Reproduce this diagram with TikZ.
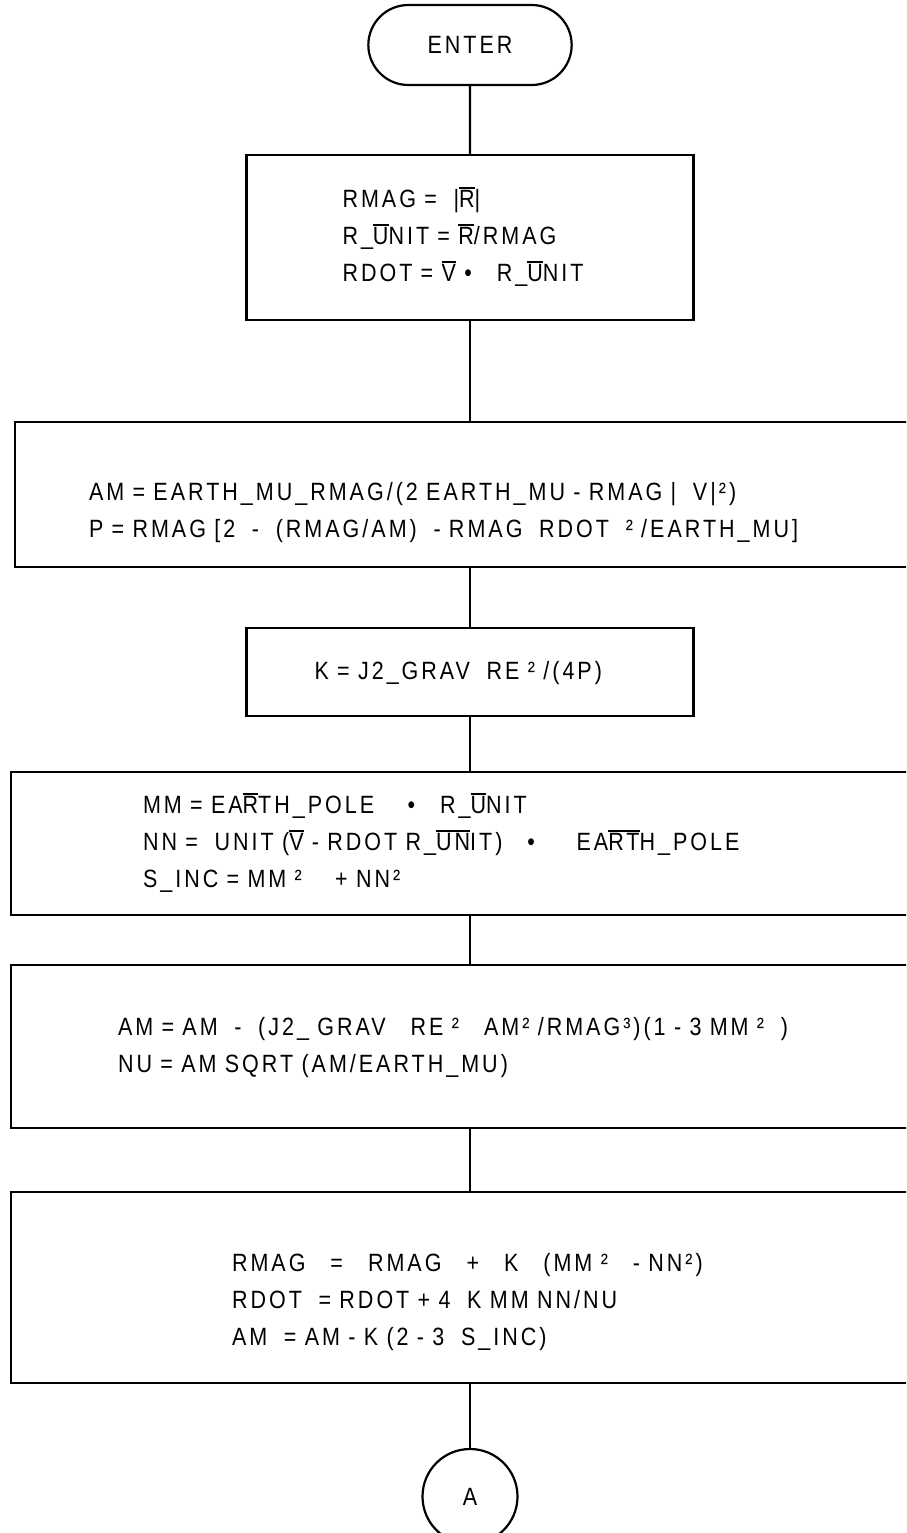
\documentclass[tikz,border=0pt]{standalone}
\usepackage{fontspec}
\usetikzlibrary{
  positioning,
  shapes.misc
}
\newfontfamily\chartfont[FakeStretch=0.86, LetterSpace=12]{Liberation Sans}
\newcommand{\ovl}[1]{\leavevmode\vbox{\hrule height 2pt\kern 1.6pt\hbox{#1}}}

\begin{document}
\begin{tikzpicture}[x=1pt, y=-1pt,
  chart/.style={font=\chartfont\fontsize{25}{37}\selectfont},
  procbox/.style={chart, draw, line width=2.2pt, outer sep=0pt, align=left},
  flow/.style={line width=2.2pt}]
  \useasboundingbox (0,0) rectangle (906,1533);
  \clip (0,0) rectangle (906,1533);
  \node[chart, draw, line width=2.2pt, outer sep=0pt, rounded rectangle, minimum width=210pt, minimum height=80pt] (enter) at (470,45) {ENTER};
  \node[procbox, below=70pt of enter, text width=255pt, inner xsep=96pt, minimum height=165pt] (mag) {\begin{tabular}{@{}l@{}}
    RMAG =~ |\ovl{R}|\\
    R\_\ovl{U}NIT = \ovl{R}/RMAG\\
    RDOT = \ovl{V} •~~ R\_\ovl{U}NIT
  \end{tabular}};
  \node[procbox, below=102pt of mag, text width=762pt, inner xsep=74pt, minimum height=145pt] (semi) {\raisebox{-17pt}[\height][\depth]{\begin{tabular}{@{}l@{}}
    AM = EARTH\_MU\_RMAG/(2 EARTH\_MU - RMAG |~ V|²)\\
    P = RMAG [2~ -~ (RMAG/AM)~ - RMAG~ RDOT~ ² /EARTH\_MU]
  \end{tabular}}};
  \node[procbox, below=61pt of semi, text width=311pt, inner xsep=68pt, minimum height=88pt] (kcoef) {\begin{tabular}{@{}l@{}}
    K = J2\_GRAV~ RE ² /(4P)
  \end{tabular}};
  \node[procbox, below=56pt of kcoef, text width=654pt, inner xsep=132pt, minimum height=143pt] (pole) {\begin{tabular}{@{}l@{}}
    MM = EA\ovl{R}TH\_POLE~~ ~• ~~R\_\ovl{U}NIT\\
    NN = ~UNIT (\ovl{V} - RDOT R\_\ovl{UN}IT) ~~• ~~~ EA\ovl{RT}H\_POLE\\
    S\_INC = MM ² ~~ + NN²
  \end{tabular}};
  \node[procbox, below=50pt of pole, text width=704pt, inner xsep=107pt, minimum height=163pt] (grav) {\begin{tabular}{@{}l@{}}
    AM = AM~ -~ (J2\_ GRAV~ ~RE ²~ ~AM² /RMAG³)(1 - 3 MM ²~ )\\
    NU = AM SQRT (AM/EARTH\_MU)
  \end{tabular}};
  \node[procbox, below=64pt of grav, text width=476pt, inner xsep=221pt, minimum height=191pt] (upd) {\raisebox{-14pt}[\height][\depth]{\begin{tabular}{@{}l@{}}
    RMAG~~ =~~ RMAG~~ +~~ K~~ (MM ²~~ - NN²)\\
    RDOT~ = RDOT + 4~ K MM NN/NU\\
    AM~ = AM - K (2 - 3~ S\_INC)
  \end{tabular}}};
  \node[chart, draw, line width=2.2pt, outer sep=0pt, circle, minimum size=95pt, below=66pt of upd] (conA) {A};
  \draw[flow] (enter) -- (mag);
  \draw[flow] (mag) -- (semi);
  \draw[flow] (semi) -- (kcoef);
  \draw[flow] (kcoef) -- (pole);
  \draw[flow] (pole) -- (grav);
  \draw[flow] (grav) -- (upd);
  \draw[flow] (upd) -- (conA);
\end{tikzpicture}
\end{document}
